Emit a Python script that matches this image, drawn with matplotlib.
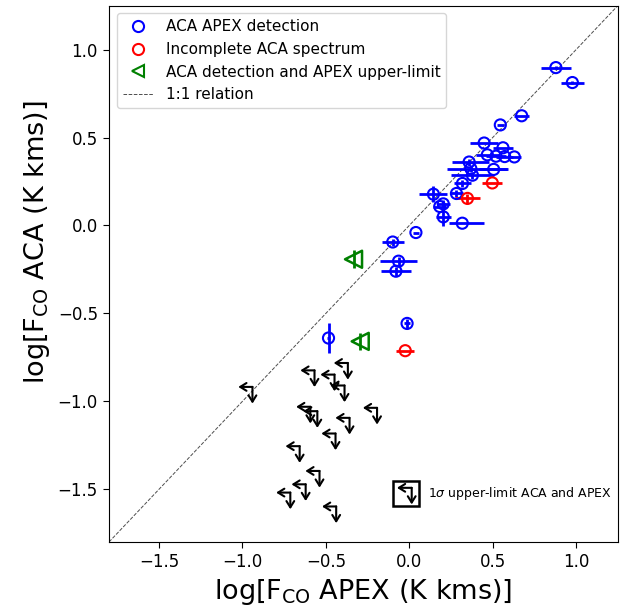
import matplotlib
matplotlib.use("Agg")
import matplotlib.pyplot as plt
from matplotlib.patches import Rectangle
from matplotlib.lines import Line2D
import numpy as np

# ---- data ----
# ACA APEX detections (blue)
blue_x = [0.879, 0.978, 0.674, 0.546, 0.449, 0.562, 0.468, 0.520, 0.572, 0.630,
          0.506, 0.359, 0.369, 0.379, 0.319, 0.283, 0.145, 0.204, 0.183, 0.204,
          0.318, 0.040, -0.099, -0.064, -0.080, -0.484, -0.013]
blue_y = [0.898, 0.813, 0.624, 0.572, 0.469, 0.442, 0.402, 0.394, 0.392, 0.390,
          0.319, 0.361, 0.324, 0.286, 0.239, 0.182, 0.178, 0.123, 0.108, 0.049,
          0.013, -0.040, -0.094, -0.203, -0.260, -0.640, -0.557]
blue_xerr_lo = [0.088, 0.068, 0.045, 0.02, 0.085, 0.06, 0.07, 0.06, 0.05, 0.04,
                0.085, 0.10, 0.14, 0.13, 0.05, 0.04, 0.084, 0.04, 0.04, 0.045,
                0.08, 0.02, 0.065, 0.11, 0.09, 0.01, 0.02]
blue_xerr_hi = [0.088, 0.068, 0.045, 0.02, 0.085, 0.06, 0.07, 0.06, 0.05, 0.04,
                0.085, 0.12, 0.22, 0.13, 0.05, 0.04, 0.084, 0.04, 0.04, 0.045,
                0.13, 0.02, 0.065, 0.11, 0.09, 0.01, 0.02]
blue_yerr = [0.01, 0.01, 0.0, 0.0, 0.0, 0.0, 0.0, 0.0, 0.0, 0.0,
             0.0, 0.02, 0.02, 0.02, 0.02, 0.02, 0.045, 0.02, 0.0, 0.05,
             0.0, 0.0, 0.02, 0.025, 0.025, 0.085, 0.025]

# Incomplete ACA spectrum (red)
red_x = [0.498, 0.349, -0.024]
red_y = [0.242, 0.154, -0.712]
red_xerr = [0.06, 0.075, 0.055]
red_yerr = [0.0, 0.025, 0.0]

# ACA detection and APEX upper-limit (green)
green_x = [-0.334, -0.294]
green_y = [-0.192, -0.659]
green_yerr = [0.05, 0.05]

# 1-sigma upper limits in both ACA and APEX
ul_x = [-0.940, -0.568, -0.368, -0.448, -0.388, -0.593, -0.551, -0.358,
        -0.193, -0.442, -0.657, -0.538, -0.621, -0.713, -0.438]
ul_y = [-0.918, -0.824, -0.782, -0.848, -0.910, -1.031, -1.056, -1.094,
        -1.037, -1.183, -1.255, -1.396, -1.472, -1.519, -1.598]

ticks = [-1.5, -1.0, -0.5, 0.0, 0.5, 1.0]
lims = (-1.8, 1.25)

labels = ['ACA APEX detection', 'Incomplete ACA spectrum',
          'ACA detection and APEX upper-limit', '1:1 relation']

# ---- figure ----
fig = plt.figure(figsize=(6.25, 6.07), dpi=100)
ax = fig.add_axes([0.1744, 0.1071, 0.814, 0.8835])

ax.plot(lims, lims, ls='--', color='0.3', lw=0.7, zorder=1)

ax.errorbar(blue_x, blue_y, xerr=[blue_xerr_lo, blue_xerr_hi], yerr=blue_yerr,
            fmt='none', ecolor='b', elinewidth=2, zorder=2)
ax.scatter(blue_x, blue_y, s=64, facecolors='none', edgecolors='b', linewidths=1.5,
           zorder=3)

ax.errorbar(red_x, red_y, xerr=red_xerr, yerr=red_yerr,
            fmt='none', ecolor='r', elinewidth=2, zorder=2)
ax.scatter(red_x, red_y, s=64, facecolors='none', edgecolors='r', linewidths=1.5,
           zorder=3)

ax.errorbar(green_x, green_y, yerr=green_yerr, fmt='none', ecolor='g',
            elinewidth=2, zorder=2)
ax.scatter(green_x, green_y, s=150, marker='<', facecolors='none', edgecolors='g',
           linewidths=1.8, zorder=3)

dx, dy = 0.085, 0.095
aprops = dict(arrowstyle='->,head_length=0.45,head_width=0.28', color='k', lw=1.5,
              shrinkA=0, shrinkB=0)
for x, y in zip(ul_x, ul_y):
    ax.annotate('', xy=(x - dx, y), xytext=(x, y), arrowprops=aprops)
    ax.annotate('', xy=(x, y - dy), xytext=(x, y), arrowprops=aprops)

# boxed key for upper limits
ax.add_patch(Rectangle((0.559, 0.067), 0.051, 0.047, transform=ax.transAxes,
                       fill=False, lw=1.8, ec='k'))
cx, cy = 0.595, 0.101
ax.annotate('', xy=(cx - 0.029, cy), xytext=(cx, cy), xycoords='axes fraction',
            textcoords='axes fraction', arrowprops=aprops)
ax.annotate('', xy=(cx, cy - 0.031), xytext=(cx, cy), xycoords='axes fraction',
            textcoords='axes fraction', arrowprops=aprops)
ax.text(0.627, 0.091, r'1$\sigma$ upper-limit ACA and APEX', transform=ax.transAxes,
        fontsize=9, va='center', ha='left')

ax.set_xlim(lims)
ax.set_ylim(lims)
ax.set_xticks(ticks)
ax.set_yticks(ticks)
ax.tick_params(labelsize=12, length=4.5)

ax.set_xlabel(r'log[F$_{\rm CO}$ APEX (K kms)]', fontsize=19.5)
ax.set_ylabel(r'log[F$_{\rm CO}$ ACA (K kms)]', fontsize=19.5)
ax.yaxis.set_label_coords(-0.112, 0.56)

handles = [
    Line2D([], [], ls='none', marker='o', ms=8, mfc='none', mec='b', mew=1.5),
    Line2D([], [], ls='none', marker='o', ms=8, mfc='none', mec='r', mew=1.5),
    Line2D([], [], ls='none', marker='<', ms=9, mfc='none', mec='g', mew=1.5),
    Line2D([], [], ls='--', color='0.3', lw=0.7),
]
ax.legend(handles, labels, loc='upper left', fontsize=11)

fig.savefig('out.png', dpi=100)
